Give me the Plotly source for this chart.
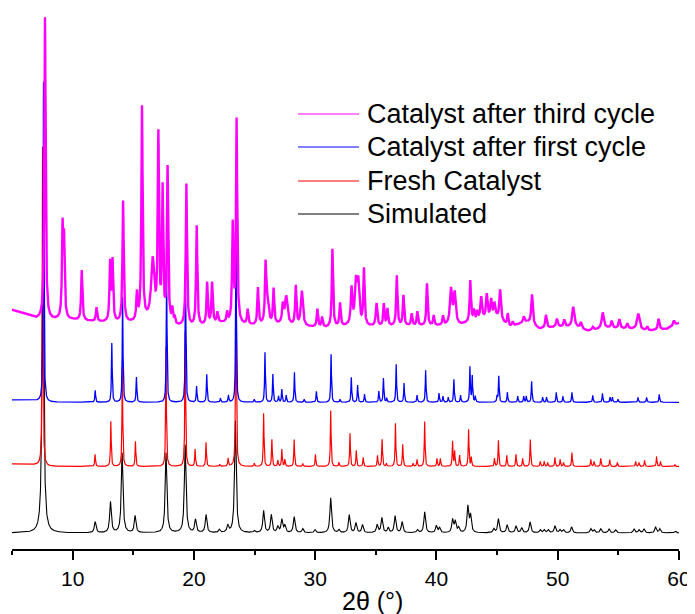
import numpy as np
import plotly.graph_objects as go

# ---------------- data ----------------
two_theta_min, two_theta_max = 5.0, 60.0

# Simulated pattern: peak positions (deg 2theta) and heights (a.u.)
sim_pos = [7.55, 11.86, 13.12, 14.08, 15.15, 17.70, 19.28, 20.13, 21.00, 22.10, 22.79,
           23.42, 24.98, 25.75, 26.38, 26.92, 27.25, 27.50, 28.27, 28.98, 29.99, 31.28,
           31.96, 32.81, 33.36, 33.90, 35.11, 35.50, 36.02, 36.59, 37.17, 38.43, 39.03,
           39.99, 40.26, 41.33, 41.55, 41.83, 42.59, 42.81, 44.73, 45.11, 45.83, 46.56,
           47.03, 47.72, 48.56, 48.89, 49.22, 49.77, 50.18, 50.48, 51.14, 52.73, 53.00,
           53.55, 54.23, 54.78, 56.29, 56.70, 57.11, 58.07, 58.42, 59.70]
sim_int = [323, 11, 31, 80, 17, 80, 88, 13, 18, 3, 7,
           112, 2, 22, 18, 6, 13, 7, 16, 4, 3, 35,
           3, 18, 10, 8, 8, 15, 5, 17, 11, 3, 21,
           7, 5, 13, 11, 5, 26, 17, 4, 14, 8, 7,
           5, 11, 3, 3, 3, 7, 3, 3, 6, 4, 3,
           4, 4, 3, 4, 3, 4, 6, 4, 2]

# Fresh catalyst
fresh_pos = [7.52, 11.85, 13.15, 14.10, 15.18, 17.70, 19.28, 20.10, 21.00, 22.13, 22.82,
             23.47, 24.98, 25.75, 26.43, 26.92, 27.25, 27.50, 28.27, 28.98, 30.02, 31.28,
             31.96, 32.87, 33.39, 33.96, 35.14, 35.52, 35.88, 36.62, 37.22, 38.07, 38.40,
             39.03, 40.04, 40.32, 41.33, 41.50, 41.91, 42.65, 42.87, 44.78, 45.11, 45.80,
             46.56, 47.11, 47.74, 48.56, 48.89, 49.17, 49.77, 50.20, 50.48, 51.17, 52.73,
             53.00, 53.55, 54.29, 54.92, 56.43, 56.70, 57.16, 58.15, 58.48, 59.66]
fresh_int = [319, 12, 45, 100, 25, 120, 135, 17, 24, 2, 8,
             215, 3, 53, 27, 6, 17, 7, 27, 3, 12, 56,
             4, 33, 16, 9, 11, 27, 3, 43, 22, 3, 7,
             45, 8, 8, 25, 15, 11, 37, 9, 8, 26, 11,
             12, 8, 27, 5, 5, 4, 9, 7, 4, 14, 7,
             5, 8, 7, 4, 5, 4, 6, 10, 5, 2]

# Catalyst after first cycle
first_pos = [7.60, 11.86, 13.23, 14.12, 15.26, 17.75, 19.31, 20.22, 21.06, 22.19, 22.85,
             23.47, 24.98, 25.86, 26.51, 26.98, 27.25, 27.61, 28.29, 29.09, 30.10, 31.31,
             32.05, 32.98, 33.50, 34.07, 35.25, 35.63, 35.90, 36.68, 37.33, 38.40, 39.11,
             40.21, 40.54, 40.97, 41.44, 41.99, 42.76, 42.95, 43.20, 45.00, 45.14, 45.85,
             46.70, 47.20, 47.41, 47.85, 48.76, 49.08, 49.88, 50.43, 51.17, 52.89, 53.69,
             54.32, 54.51, 54.97, 56.62, 57.33, 58.37]
first_int = [320, 12, 59, 105, 25, 129, 132, 16, 28, 4, 7,
             160, 3, 50, 28, 6, 13, 7, 30, 3, 11, 48,
             3, 25, 17, 8, 11, 24, 4, 38, 19, 7, 32,
             9, 6, 5, 23, 7, 35, 26, 6, 6, 26, 10,
             6, 6, 6, 21, 5, 5, 10, 6, 10, 7, 9,
             5, 5, 3, 5, 5, 8]

# Catalyst after third cycle (peak positions, heights, widths)
third_pos = [7.72, 9.17, 9.29, 10.75, 11.97, 13.09, 13.29, 14.16, 15.30, 15.72, 16.60,
             17.07, 17.42, 17.83, 18.22, 18.41, 19.38, 20.23, 21.09, 21.50, 21.94, 22.74,
             23.20, 23.52, 24.43, 25.28, 25.91, 26.05, 26.57, 27.33, 27.61, 28.40, 28.90,
             30.18, 30.57, 31.42, 32.05, 33.00, 33.36, 33.55, 34.02, 35.06, 35.66, 35.96,
             36.73, 37.28, 37.96, 38.43, 39.22, 39.77, 40.54, 41.20, 41.50, 42.79, 43.09,
             43.36, 43.69, 44.15, 44.51, 44.78, 45.25, 45.88, 46.29, 47.20, 47.88, 49.03,
             49.93, 50.54, 51.28, 51.91, 52.89, 53.71, 54.45, 55.08, 55.74, 56.64, 57.38,
             58.32, 59.58]
third_int = [302, 87, 73, 50, 14, 58, 60, 121, 27, 213, 60,
             182, 130, 154, 14, 7, 142, 100, 42, 41, 10, 10,
             97, 203, 15, 37, 55, 22, 35, 18, 28, 39, 35,
             18, 10, 78, 23, 36, 40, 40, 56, 23, 22, 17,
             50, 30, 12, 14, 42, 10, 9, 35, 31, 41, 10,
             8, 22, 24, 18, 14, 30, 12, 4, 6, 30, 13,
             8, 7, 20, 6, 3, 16, 7, 9, 5, 16, 4,
             11, 5]
third_fwhm = [0.12, 0.12, 0.12, 0.12, 0.12, 0.12, 0.12, 0.12, 0.12, 0.12, 0.30,
              0.12, 0.12, 0.12, 0.12, 0.12, 0.12, 0.12, 0.12, 0.12, 0.12, 0.12,
              0.12, 0.12, 0.12, 0.12, 0.12, 0.25, 0.12, 0.15, 0.25, 0.12, 0.20,
              0.12, 0.12, 0.12, 0.12, 0.15, 0.20, 0.20, 0.12, 0.15, 0.12, 0.12,
              0.12, 0.12, 0.12, 0.12, 0.12, 0.12, 0.12, 0.20, 0.20, 0.12, 0.12,
              0.12, 0.15, 0.15, 0.15, 0.15, 0.15, 0.12, 0.12, 0.15, 0.15, 0.15,
              0.15, 0.15, 0.20, 0.15, 0.15, 0.20, 0.15, 0.15, 0.15, 0.25, 0.15,
              0.15, 0.15]
# background of the third-cycle pattern (2theta, level)
third_bg_x = [5, 6, 7, 8, 10, 12, 13.5, 15, 16, 17, 18.5, 20, 21, 22, 24, 25, 27, 29,
              31, 33, 35, 37, 40, 42, 43.5, 45, 46, 47.5, 48.5, 50, 51.5, 52.5, 54, 56,
              57.5, 59, 60]
third_bg_y = [239, 235, 230, 229, 229, 227, 226, 226, 228, 227, 222, 222, 223, 226,
              224, 223, 224, 222, 221, 223, 222, 223, 223, 224, 229, 231, 222, 227,
              220, 222, 222, 218, 221, 220, 218, 220, 226]

# vertical offsets of the stacked patterns
sim_offset = 16.0
fresh_bg_x = [5, 7, 8, 60]
fresh_bg_y = [85.0, 84.0, 82.5, 82.5]
first_bg_x = [5, 7, 8, 60]
first_bg_y = [149.0, 148.0, 146.7, 146.7]

series_names = ["Catalyst after third cycle", "Catalyst after first cycle",
                "Fresh Catalyst", "Simulated"]
series_colors = ["#FF00FF", "#0000FF", "#FF0000", "#000000"]

# ---------------- build profiles ----------------
x = np.round(np.arange(two_theta_min, two_theta_max + 1e-9, 0.01), 4)


def profile(pos, inten, fwhm):
    y = np.zeros_like(x)
    fw = fwhm if isinstance(fwhm, (list, tuple)) else [fwhm] * len(pos)
    for p, h, w in zip(pos, inten, fw):
        y += h / (1.0 + ((x - p) / (w / 2.0)) ** 2)
    return y


y_sim = sim_offset + profile(sim_pos, sim_int, 0.16)
y_fresh = np.interp(x, fresh_bg_x, fresh_bg_y) + profile(fresh_pos, fresh_int, 0.07)
y_first = np.interp(x, first_bg_x, first_bg_y) + profile(first_pos, first_int, 0.07)
y_third = np.interp(x, third_bg_x, third_bg_y) + profile(third_pos, third_int, third_fwhm)

fig = go.Figure()
fig.add_trace(go.Scatter(x=x, y=y_sim, mode="lines", name=series_names[3],
                         line=dict(color=series_colors[3], width=1.1), showlegend=False))
fig.add_trace(go.Scatter(x=x, y=y_fresh, mode="lines", name=series_names[2],
                         line=dict(color=series_colors[2], width=1.2), showlegend=False))
fig.add_trace(go.Scatter(x=x, y=y_first, mode="lines", name=series_names[1],
                         line=dict(color=series_colors[1], width=1.3), showlegend=False))
fig.add_trace(go.Scatter(x=x, y=y_third, mode="lines", name=series_names[0],
                         line=dict(color=series_colors[0], width=2.4), showlegend=False))

# page has an 8px body margin: figure is placed at (8, 8) in the window
OFF = 8
W, H = 695 - OFF, 614 - OFF
ml, mr, mt, mb = 4, 16, 0, 65
pw, ph = W - ml - mr, H - mt - mb
plot_bottom_page = OFF + mt + ph


def px2paper_x(px):
    return (px - OFF - ml) / pw


def py2paper_y(py):
    return (plot_bottom_page - py) / ph


# custom legend (line sample + text), positions in window pixels
shapes = []
annotations = []
leg_rows = [114, 147, 181, 214]
for name, color, ry in zip(series_names, series_colors, leg_rows):
    shapes.append(dict(type="line", xref="paper", yref="paper",
                       x0=px2paper_x(298), x1=px2paper_x(359),
                       y0=py2paper_y(ry), y1=py2paper_y(ry),
                       line=dict(color=color, width=1.2)))
    annotations.append(dict(text=name, xref="paper", yref="paper",
                            x=px2paper_x(365), y=py2paper_y(ry),
                            xanchor="left", yanchor="middle", showarrow=False,
                            font=dict(family="Liberation Sans, Arial", size=27, color="#000")))

annotations.append(dict(text="2θ (°)", xref="paper", yref="paper",
                        x=px2paper_x(372), y=py2paper_y(601),
                        xanchor="center", yanchor="middle", showarrow=False,
                        font=dict(family="Liberation Sans, Arial", size=25, color="#000")))

fig.update_layout(
    width=W, height=H,
    margin=dict(l=ml, r=mr, t=mt, b=mb, pad=0, autoexpand=False),
    paper_bgcolor="white", plot_bgcolor="white",
    showlegend=False,
    shapes=shapes, annotations=annotations,
    xaxis=dict(range=[two_theta_min, two_theta_max], showgrid=False, zeroline=False,
               showline=True, linecolor="black", linewidth=2,
               tickmode="array", tickvals=[10, 20, 30, 40, 50, 60],
               ticktext=["10", "20", "30", "40", "50", "60"],
               ticks="outside", ticklen=9, tickwidth=2, tickcolor="black",
               ticklabelstandoff=1,
               minor=dict(tickvals=[5, 15, 25, 35, 45, 55], ticks="outside",
                          ticklen=4, tickwidth=2, tickcolor="black"),
               tickfont=dict(family="Liberation Sans, Arial", size=21, color="black")),
    yaxis=dict(range=[0, ph], visible=False, showgrid=False, zeroline=False),
)

fig.write_html("out.html")
